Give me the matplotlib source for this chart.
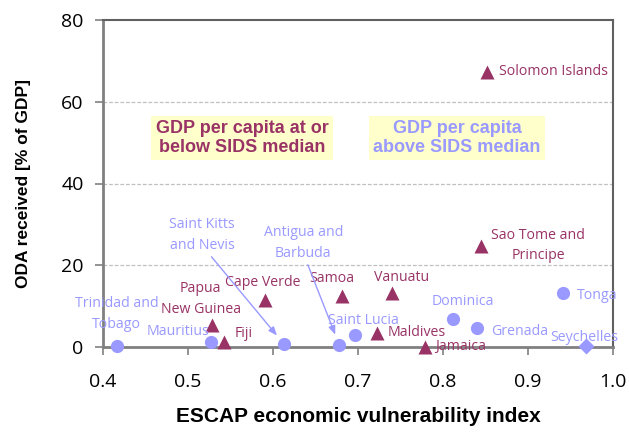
import matplotlib
matplotlib.use("Agg")
import matplotlib.pyplot as plt

# ---- data ----
below_names = ["Solomon Islands", "Sao Tome and\nPrincipe", "Samoa", "Vanuatu",
               "Maldives", "Jamaica", "Papua\nNew Guinea", "Fiji", "Cape Verde"]
below_x = [0.852, 0.845, 0.681, 0.740, 0.722, 0.779, 0.528, 0.542, 0.591]
below_y = [67.3, 24.6, 12.4, 13.2, 3.4, 0.1, 5.4, 1.2, 11.5]

above_names = ["Trinidad and\nTobago", "Mauritius", "Saint Kitts\nand Nevis",
               "Antigua and\nBarbuda", "Saint Lucia", "Dominica", "Grenada", "Tonga"]
above_x = [0.416, 0.527, 0.613, 0.678, 0.696, 0.812, 0.840, 0.941]
above_y = [0.2, 1.2, 0.7, 0.5, 2.9, 6.8, 4.6, 13.2]

other_names = ["Seychelles"]
other_x = [0.968]
other_y = [0.2]

x_ticks = [0.4, 0.5, 0.6, 0.7, 0.8, 0.9, 1.0]
y_ticks = [0, 20, 40, 60, 80]

# ---- styles ----
C_BELOW = "#993366"
C_ABOVE = "#9999FF"
LABEL_FONT = "Open Sans"
LFS = 10.2
LINE_PX = 20.5

# label offsets in pixels (dx, dy, ha)
below_off = {
    "Solomon Islands": (12, 0, "left"),
    "Sao Tome and\nPrincipe": (57, 1, "center"),
    "Samoa": (-10, 18, "center"),
    "Vanuatu": (10, 16, "center"),
    "Maldives": (11, 1, "left"),
    "Jamaica": (10, 0, "left"),
    "Papua\nNew Guinea": (-11, 26, "center"),
    "Fiji": (20, 9, "center"),
    "Cape Verde": (-3, 17, "center"),
}
above_off = {
    "Trinidad and\nTobago": (0, 32, "center"),
    "Mauritius": (-33, 11, "center"),
    "Saint Kitts\nand Nevis": (-82, 109, "center"),
    "Antigua and\nBarbuda": (-36, 102, "center"),
    "Saint Lucia": (9, 15, "center"),
    "Dominica": (10, 18, "center"),
    "Grenada": (14, -3, "left"),
    "Tonga": (14, -2, "left"),
}
other_off = {"Seychelles": (-1, 9, "center")}
arrow_labels = {"Saint Kitts\nand Nevis", "Antigua and\nBarbuda"}

fig = plt.figure(figsize=(6.29, 4.32), dpi=100)
ax = fig.add_axes([103 / 629, 1 - 347 / 432, 510 / 629, 327 / 432])

ax.set_xlim(0.4, 1.0)
ax.set_ylim(0, 80)
ax.set_xticks(x_ticks)
ax.set_yticks(y_ticks)
ax.set_xticklabels([f"{v:.1f}" for v in x_ticks], fontfamily=LABEL_FONT, fontsize=14)
ax.set_yticklabels([str(v) for v in y_ticks], fontfamily=LABEL_FONT, fontsize=14)
ax.tick_params(axis="both", direction="out", length=6, width=1.2, color="#808080")
ax.tick_params(axis="x", pad=13)
ax.tick_params(axis="y", pad=8)

for y in y_ticks[1:-1]:
    ax.axhline(y, color="#C0C0C0", lw=0.9, ls=(0, (3, 1.5)), zorder=0)

for s in ["left", "bottom"]:
    ax.spines[s].set_color("#808080")
    ax.spines[s].set_linewidth(2)
for s in ["top", "right"]:
    ax.spines[s].set_color("#606060")
    ax.spines[s].set_linewidth(1.5)

ax.plot(above_x, above_y, "o", color=C_ABOVE, ms=9.5, mec="none", zorder=3, clip_on=False)
ax.plot(other_x, other_y, "D", color=C_ABOVE, ms=8, mec="none", zorder=3, clip_on=False)
ax.plot(below_x, below_y, "^", color=C_BELOW, ms=10.5, mec="none", zorder=4, clip_on=False)


def label(names, xs, ys, offs, color):
    for n, x, y in zip(names, xs, ys):
        dx, dy, ha = offs[n]
        lines = n.split("\n")
        k = len(lines)
        for i, line in enumerate(lines):
            ly = dy + (k - 1) / 2 * LINE_PX - i * LINE_PX
            kw = {}
            if n in arrow_labels and i == k - 1:
                kw["arrowprops"] = dict(arrowstyle="-|>,head_length=0.5,head_width=0.2",
                                        color=color, lw=1, shrinkA=1, shrinkB=8)
            ax.annotate(line, xy=(x, y), xytext=(dx, ly), textcoords="offset pixels",
                        ha=ha, va="center", color=color, fontsize=LFS,
                        fontfamily=LABEL_FONT, zorder=5, **kw)


label(below_names, below_x, below_y, below_off, C_BELOW)
label(above_names, above_x, above_y, above_off, C_ABOVE)
label(other_names, other_x, other_y, other_off, C_ABOVE)

box = dict(boxstyle="square,pad=0.25", fc="#FFFFCC", ec="none")
ax.text((242 - 103) / 510, 1 - (138 - 20) / 327,
        "GDP per capita at or\nbelow SIDS median", transform=ax.transAxes,
        ha="center", va="center", color=C_BELOW, fontsize=13, fontweight="bold",
        fontfamily="Liberation Sans", bbox=box, linespacing=1.15)
ax.text((457 - 103) / 510, 1 - (138 - 20) / 327,
        "GDP per capita\nabove SIDS median", transform=ax.transAxes,
        ha="center", va="center", color=C_ABOVE, fontsize=13, fontweight="bold",
        fontfamily="Liberation Sans", bbox=box, linespacing=1.15)

ax.set_xlabel("ESCAP economic vulnerability index", fontsize=15, fontweight="bold",
              fontfamily="Liberation Sans", labelpad=11)
ax.set_ylabel("ODA received [% of GDP]", fontsize=12.5, fontweight="bold",
              fontfamily="Liberation Sans", labelpad=22)

fig.savefig("out.png", dpi=100)
